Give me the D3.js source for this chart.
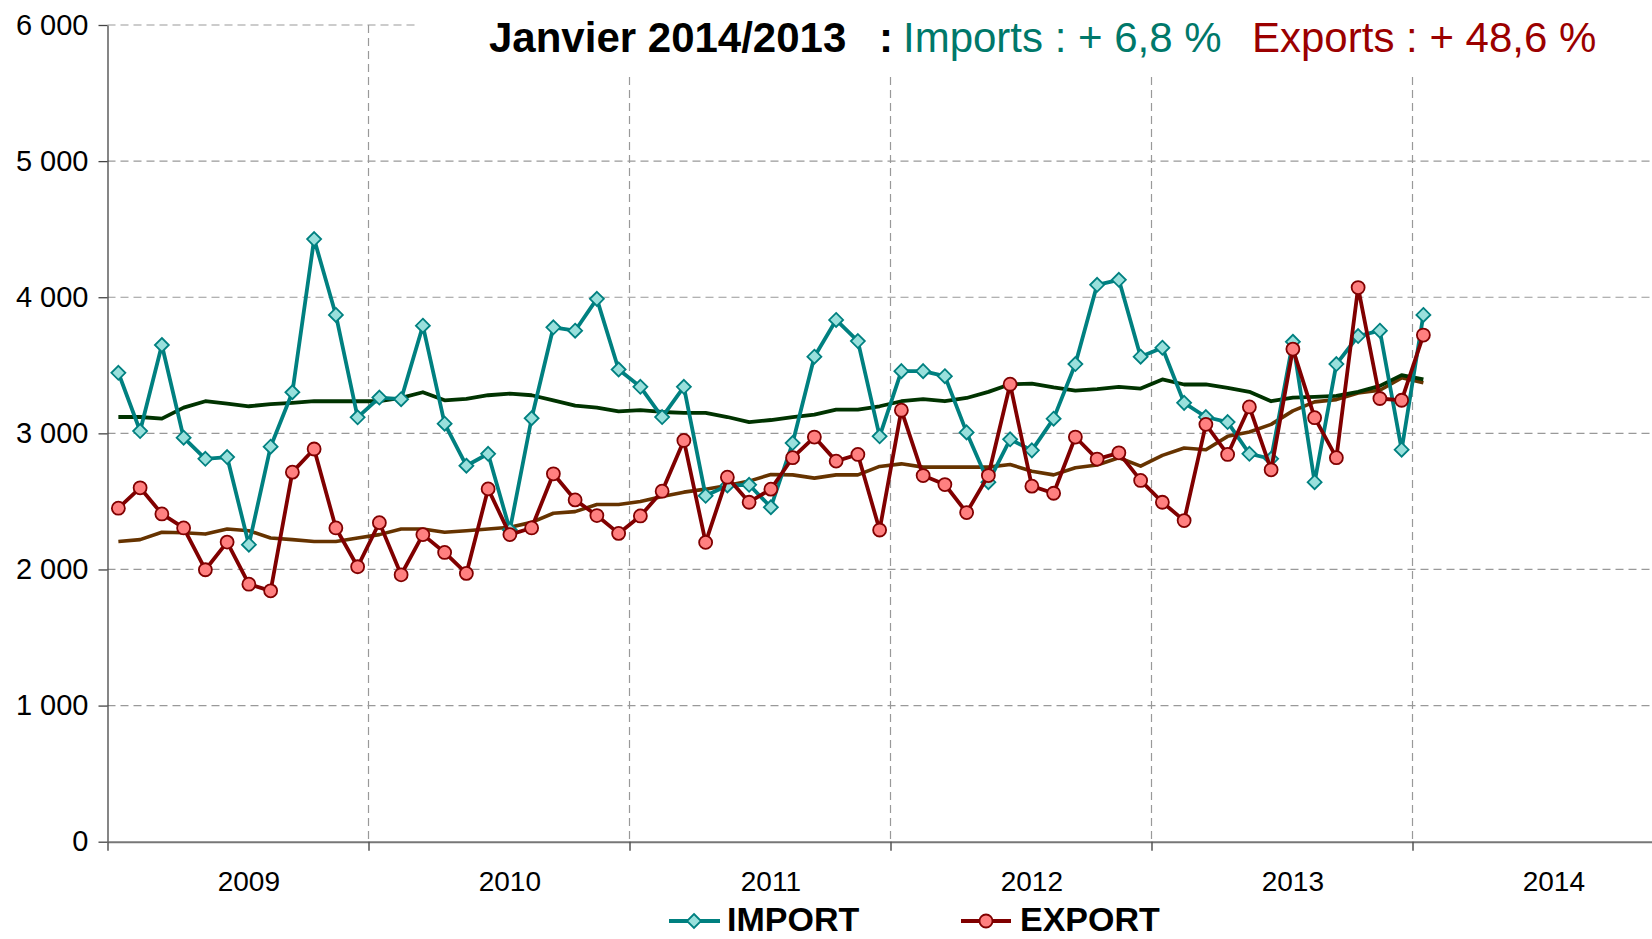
<!DOCTYPE html>
<html>
<head>
<meta charset="utf-8">
<script src="https://cdn.jsdelivr.net/npm/d3@7"></script>
<style>
  html, body { margin: 0; padding: 0; background: #fff; }
  svg { display: block; font-family: "Liberation Sans", Arial, sans-serif; }
</style>
</head>
<body>
<div id="chart"></div>
<script>
// DATA (monthly, janvier 2009 -> janvier 2014)
const years = ["2009", "2010", "2011", "2012", "2013", "2014"];
const yTicks = [0, 1000, 2000, 3000, 4000, 5000, 6000];

const importValues = [
  3445, 3017, 3649, 2968, 2813, 2826, 2182, 2902, 3302, 4427, 3870, 3118,
  3263, 3251, 3791, 3071, 2762, 2850, 2290, 3111, 3779, 3754, 3988, 3469,
  3342, 3120, 3342, 2541, 2617, 2622, 2457, 2929, 3563, 3833, 3678, 2978,
  3457, 3457, 3420, 3007, 2641, 2956, 2875, 3108, 3509, 4091, 4128, 3563,
  3629, 3224, 3120, 3083, 2850, 2813, 3673, 2641, 3509, 3715, 3754, 2880,
  3870
];
const exportValues = [
  2450, 2600, 2408, 2305, 1998, 2201, 1892, 1843, 2715, 2885, 2305, 2020,
  2344, 1961, 2256, 2125, 1971, 2592, 2256, 2305, 2703, 2511, 2396, 2265,
  2393, 2575, 2948, 2199, 2678, 2494, 2590, 2821, 2973, 2796, 2845, 2290,
  3170, 2690, 2624, 2418, 2690, 3361, 2612, 2560, 2973, 2811, 2857, 2654,
  2494, 2359, 3066, 2845, 3194, 2732, 3619, 3115, 2821, 4071, 3256, 3243,
  3722
];
// moyennes mobiles
const importAvg = [
  3120, 3120, 3108, 3189, 3236, 3219, 3199, 3214, 3224, 3236, 3236, 3236,
  3236, 3260, 3302, 3243, 3253, 3280, 3292, 3280, 3243, 3204, 3189, 3162,
  3170, 3157, 3150, 3150, 3120, 3083, 3098, 3120, 3138, 3174, 3174, 3199,
  3236, 3251, 3236, 3260, 3305, 3361, 3366, 3337, 3314, 3325, 3342, 3329,
  3396, 3359, 3359, 3334, 3305, 3236, 3263, 3268, 3275, 3305, 3349, 3428,
  3396
];
const exportAvg = [
  2206, 2219, 2273, 2270, 2260, 2297, 2285, 2231, 2219, 2206, 2206, 2231,
  2256, 2297, 2297, 2273, 2285, 2297, 2310, 2346, 2413, 2425, 2477, 2477,
  2499, 2536, 2568, 2590, 2617, 2649, 2698, 2695, 2671, 2695, 2695, 2757,
  2776, 2752, 2752, 2752, 2752, 2771, 2722, 2695, 2747, 2768, 2821, 2759,
  2838, 2892, 2880, 2978, 3010, 3066, 3165, 3231, 3248, 3297, 3317, 3408,
  3371
];

const width = 1652;
const height = 939;

const svg = d3.select("#chart").append("svg")
  .attr("width", width)
  .attr("height", height)
  .style("overflow", "hidden");

// month index scale: 12 categories per year, plot runs off the right edge
const xScale = d3.scaleLinear().domain([-0.5, 71.5]).range([107.5, 1673.5]);
const yScale = d3.scaleLinear().domain([0, 6000]).range([841.7, 25]);

const gridColor = "#999";

// horizontal grid
svg.append("g")
  .selectAll("line")
  .data(yTicks.filter(d => d > 0))
  .join("line")
  .attr("x1", xScale(-0.5)).attr("x2", width)
  .attr("y1", d => yScale(d)).attr("y2", d => yScale(d))
  .attr("stroke", gridColor)
  .attr("stroke-width", 1.2)
  .attr("stroke-dasharray", "8,5");

// vertical grid at year boundaries
const boundaries = d3.range(1, years.length).map(k => k * 12 - 0.5);
svg.append("g")
  .selectAll("line")
  .data(boundaries)
  .join("line")
  .attr("x1", d => xScale(d)).attr("x2", d => xScale(d))
  .attr("y1", yScale(6000)).attr("y2", yScale(0))
  .attr("stroke", gridColor)
  .attr("stroke-width", 1.2)
  .attr("stroke-dasharray", "8,5");

// white box behind the title
svg.append("rect")
  .attr("x", 418).attr("y", 0)
  .attr("width", width - 418).attr("height", 72)
  .attr("fill", "#fff");

// y axis
const fmt = d => d === 0 ? "0" : d3.format(",")(d).replace(",", " ");
const yAxis = d3.axisLeft(yScale).tickValues(yTicks).tickFormat(fmt)
  .tickSize(9).tickSizeOuter(0).tickPadding(10);
const gy = svg.append("g").attr("transform", `translate(${xScale(-0.5)},0)`).call(yAxis);
gy.select(".domain").attr("stroke", "#444").attr("stroke-width", 1.3);
gy.selectAll(".tick line").attr("stroke", "#444").attr("stroke-width", 1.3);
gy.selectAll(".tick text")
  .attr("font-size", 29)
  .attr("fill", "#000")
  .attr("font-family", "Liberation Sans, Arial, sans-serif");

// x axis (line + ticks at year boundaries)
const xAxis = d3.axisBottom(xScale)
  .tickValues([-0.5].concat(boundaries))
  .tickFormat("")
  .tickSize(9).tickSizeOuter(0);
const gx = svg.append("g").attr("transform", `translate(0,${yScale(0)})`).call(xAxis);
gx.select(".domain").attr("stroke", "#777").attr("stroke-width", 2);
gx.selectAll(".tick line").attr("stroke", "#555").attr("stroke-width", 1.5);

// year labels (centred on July)
svg.append("g")
  .selectAll("text")
  .data(years)
  .join("text")
  .attr("x", (d, i) => xScale(i * 12 + 6))
  .attr("y", 891)
  .attr("text-anchor", "middle")
  .attr("font-size", 28)
  .attr("fill", "#000")
  .text(d => d);

const line = d3.line().x((d, i) => xScale(i)).y(d => yScale(d));

// moving averages
svg.append("path").datum(exportAvg)
  .attr("d", line).attr("fill", "none")
  .attr("stroke", "#663300").attr("stroke-width", 3.6)
  .attr("stroke-linejoin", "round");
svg.append("path").datum(importAvg)
  .attr("d", line).attr("fill", "none")
  .attr("stroke", "#003300").attr("stroke-width", 3.8)
  .attr("stroke-linejoin", "round");

const diamond = s => `M0,${-s}L${s},0L0,${s}L${-s},0Z`;

// IMPORT
svg.append("path").datum(importValues)
  .attr("d", line).attr("fill", "none")
  .attr("stroke", "#008080").attr("stroke-width", 3.8)
  .attr("stroke-linejoin", "round");
svg.append("g")
  .selectAll("path")
  .data(importValues)
  .join("path")
  .attr("transform", (d, i) => `translate(${xScale(i)},${yScale(d)})`)
  .attr("d", diamond(7))
  .attr("fill", "#99e0dc")
  .attr("stroke", "#008080")
  .attr("stroke-width", 1.8);

// EXPORT
svg.append("path").datum(exportValues)
  .attr("d", line).attr("fill", "none")
  .attr("stroke", "#800000").attr("stroke-width", 3.8)
  .attr("stroke-linejoin", "round");
svg.append("g")
  .selectAll("circle")
  .data(exportValues)
  .join("circle")
  .attr("cx", (d, i) => xScale(i))
  .attr("cy", d => yScale(d))
  .attr("r", 6.5)
  .attr("fill", "#ff8080")
  .attr("stroke", "#800000")
  .attr("stroke-width", 1.8);

// title
const title = svg.append("g").attr("font-size", 42);
title.append("text").attr("x", 489).attr("y", 52)
  .attr("font-weight", "bold").attr("fill", "#000").text("Janvier 2014/2013");
title.append("text").attr("x", 879).attr("y", 52)
  .attr("font-weight", "bold").attr("fill", "#000").text(":");
title.append("text").attr("x", 903).attr("y", 52)
  .attr("fill", "#00786a").text("Imports : + 6,8 %");
title.append("text").attr("x", 1252).attr("y", 52)
  .attr("fill", "#9b0000").text("Exports : + 48,6 %");

// legend (kept just inside the bottom edge)
const legend = svg.append("g");
legend.append("line").attr("x1", 669).attr("x2", 720).attr("y1", 921).attr("y2", 921)
  .attr("stroke", "#008080").attr("stroke-width", 3.8);
legend.append("path").attr("transform", "translate(694,921)").attr("d", diamond(7))
  .attr("fill", "#99e0dc").attr("stroke", "#008080").attr("stroke-width", 1.8);
legend.append("text").attr("x", 727).attr("y", 931)
  .attr("font-size", 34).attr("font-weight", "bold").text("IMPORT");

legend.append("line").attr("x1", 961).attr("x2", 1011).attr("y1", 921).attr("y2", 921)
  .attr("stroke", "#800000").attr("stroke-width", 3.8);
legend.append("circle").attr("cx", 986).attr("cy", 921).attr("r", 6.5)
  .attr("fill", "#ff8080").attr("stroke", "#800000").attr("stroke-width", 1.8);
legend.append("text").attr("x", 1020).attr("y", 931)
  .attr("font-size", 34).attr("font-weight", "bold").text("EXPORT");
</script>
</body>
</html>
